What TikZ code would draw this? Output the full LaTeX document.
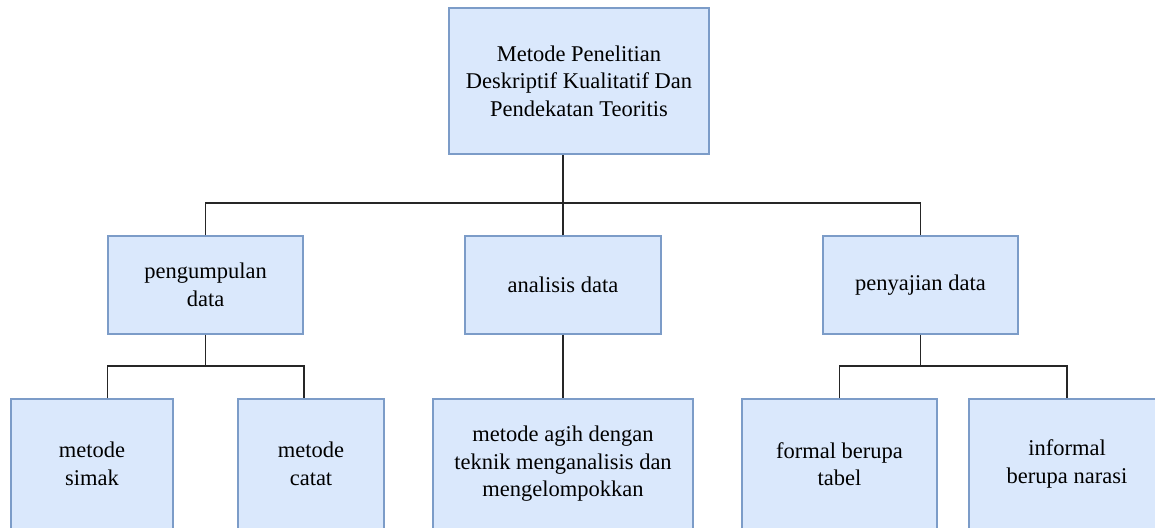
\documentclass[tikz,border=0pt]{standalone}
\usepackage{fontspec}
\setmainfont{LiberationSerif}[Extension=.ttf, UprightFont=*-Regular, BoldFont=*-Bold]
\usepackage{tikz}
\usetikzlibrary{calc}

\definecolor{boxfill}{HTML}{DAE8FC}
\definecolor{boxline}{HTML}{7C9CC8}

\begin{document}
\begin{tikzpicture}[x=1pt,y=-1pt,
    box/.style={draw=boxline, fill=boxfill, line width=1.3pt, align=center,
        inner sep=0pt, font=\fontsize{22.5}{27.5}\selectfont},
    link/.style={line width=1.7pt, black!85}]
    % Fix size of picture
    \useasboundingbox (0,0) rectangle (1155,527);
    \clip (0,0) rectangle (1155,527);

    % Draw top box
    \node[box, minimum width=260, minimum height=146] (metode) at (579,81)
        {Metode Penelitian\\Deskriptif Kualitatif Dan\\Pendekatan Teoritis};

    % Draw second row
    \node[box, minimum width=195, minimum height=98] (pengumpulan) at (205.5,285) {pengumpulan\\data};
    \node[box, minimum width=196, minimum height=98] (analisis) at (563,285) {analisis data};
    \node[box, minimum width=195, minimum height=98] (penyajian) at (920.5,285) {penyajian data};

    % Draw third row (cut by the lower edge)
    \node[box, minimum width=162, minimum height=130] (simak) at (92,464) {metode\\simak};
    \node[box, minimum width=146, minimum height=130] (catat) at (311,464) {metode\\catat};
    \node[box, minimum width=260, minimum height=130] (agih) at (563,464)
        {metode agih dengan\\teknik menganalisis dan\\mengelompokkan};
    \node[box, minimum width=195, minimum height=130] (formal) at (839.5,464) {formal berupa\\tabel};
    \node[box, minimum width=196, minimum height=130] (informal) at (1067,464) {informal\\berupa narasi};

    % Draw bus points
    \coordinate (busA) at (563,203);
    \coordinate (busB) at (205.5,366);
    \coordinate (busC) at (920.5,366);

    % Draw connectors of first level
    \draw[link] (analisis.north) -- (analisis.north |- metode.south);
    \draw[link] (pengumpulan.north) |- (busA) -| (penyajian.north);

    % Draw connectors of second level
    \draw[link] (pengumpulan.south) -- (busB);
    \draw[link] (simak.north -| pengumpulan.west) |- (busB) -| (catat.north -| pengumpulan.east);
    \draw[link] (analisis.south) -- (agih.north);
    \draw[link] (penyajian.south) -- (busC);
    \draw[link] (formal.north) |- (busC) -| (informal.north);
\end{tikzpicture}
\end{document}
